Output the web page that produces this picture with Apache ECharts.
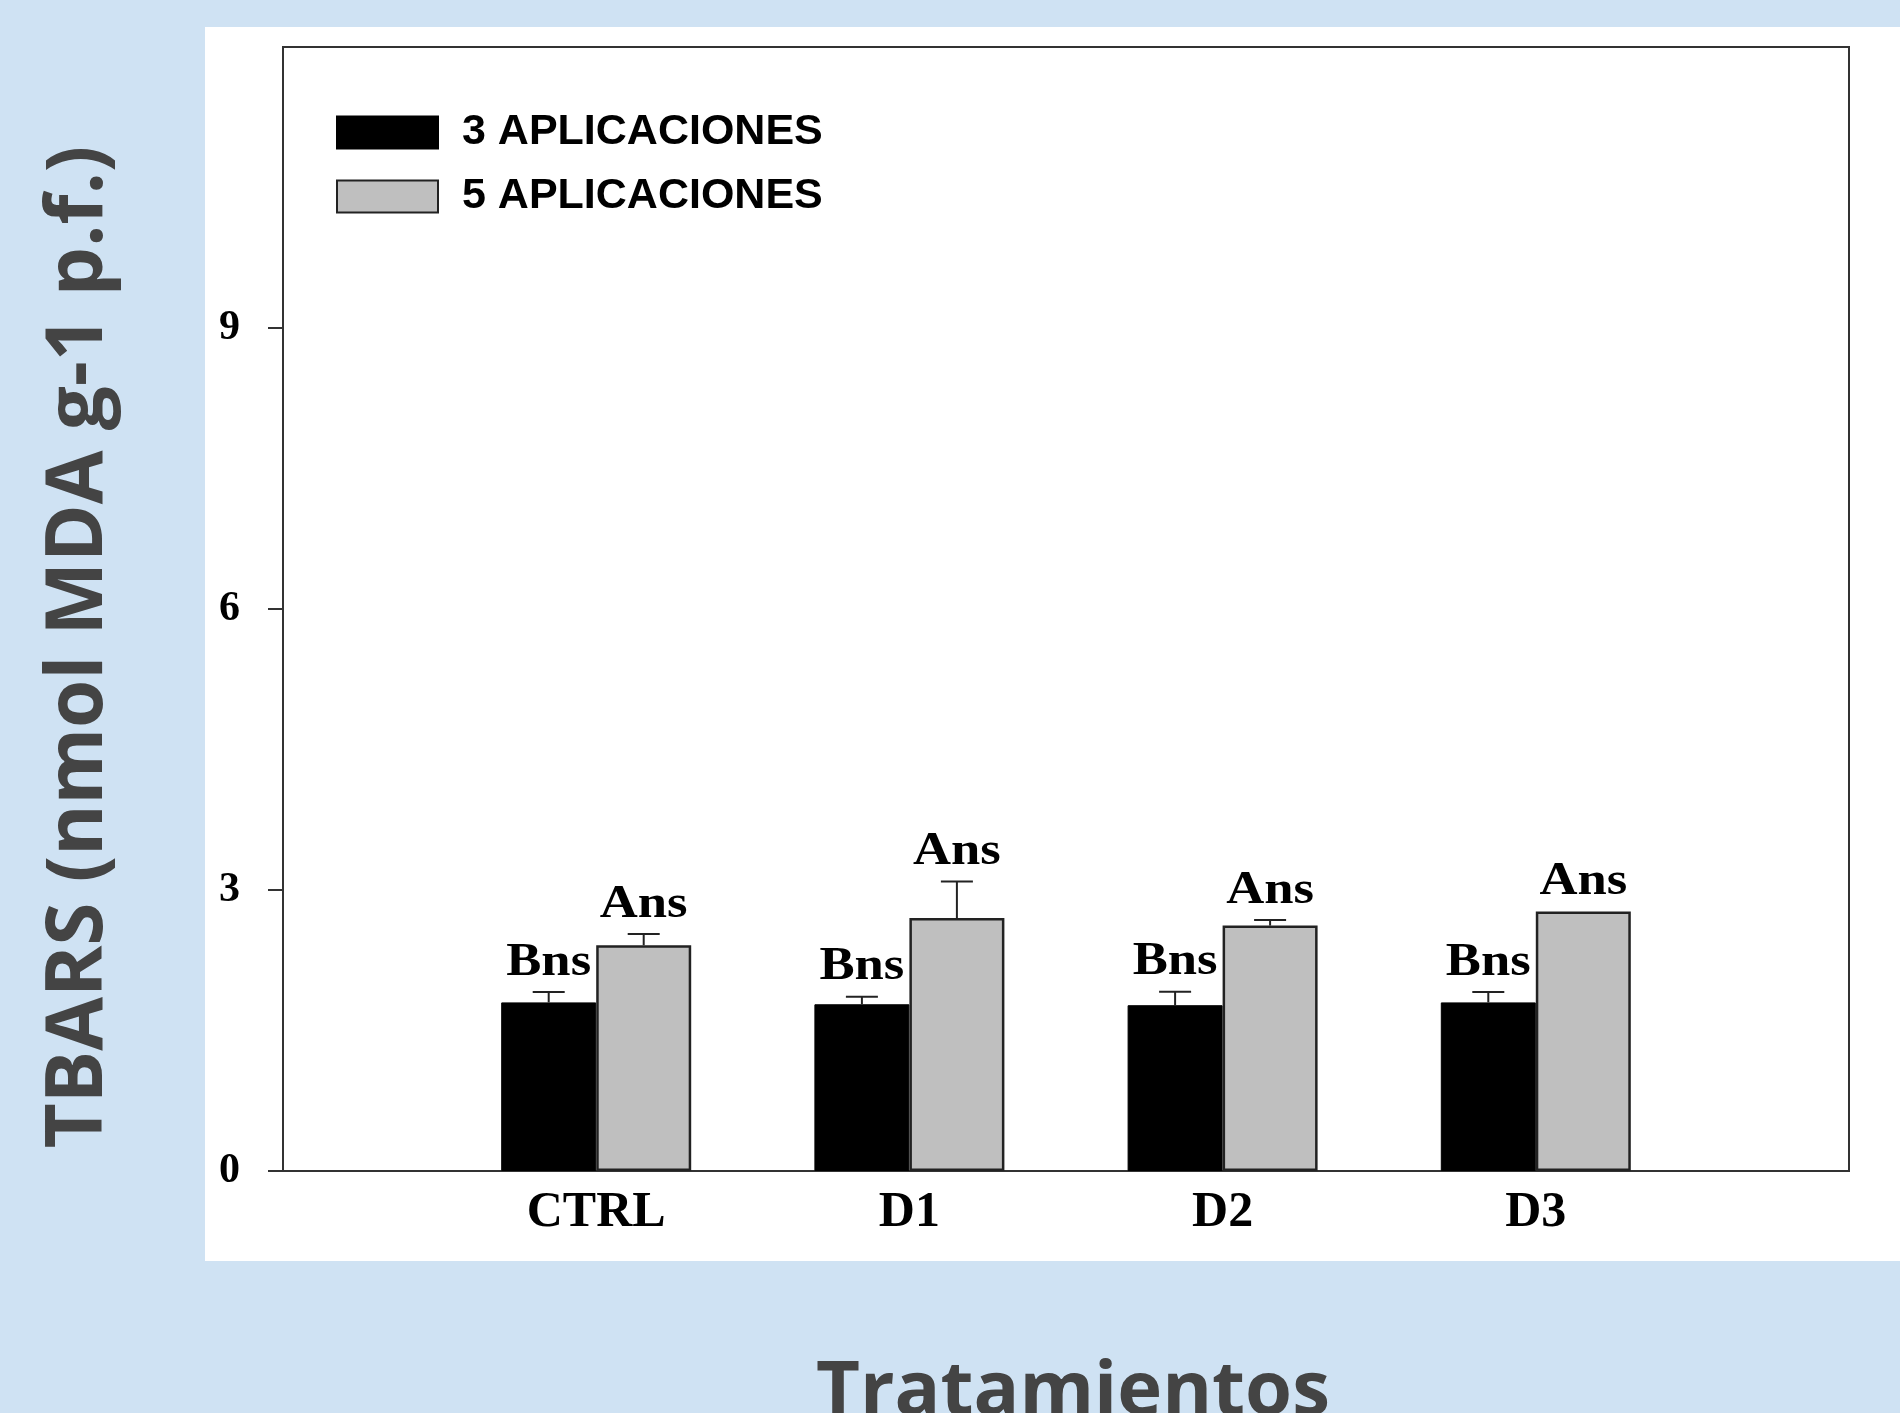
<!DOCTYPE html>
<html>
<head>
<meta charset="utf-8">
<title>TBARS</title>
<script src="https://cdn.jsdelivr.net/npm/echarts@6/dist/echarts.min.js"></script>
<style>
  html, body { margin: 0; padding: 0; background: #cfe2f3; }
  #chart { width: 1900px; height: 1413px; }
</style>
</head>
<body>
<div id="chart"></div>
<script>
// datos
var categories = ["CTRL", "D1", "D2", "D3"];
var seriesNames = ["3 APLICACIONES", "5 APLICACIONES"];
var apl3 = [1.80, 1.78, 1.77, 1.80];
var apl3Err = [0.11, 0.08, 0.145, 0.11];
var apl5 = [2.41, 2.70, 2.62, 2.77];
var apl5Err = [0.12, 0.39, 0.06, 0];
var apl3Labels = ["Bns", "Bns", "Bns", "Bns"];
var apl5Labels = ["Ans", "Ans", "Ans", "Ans"];
var yTicks = [0, 3, 6, 9];

var barW = 95;
var serif = "'Liberation Serif', 'Times New Roman', serif";

// categorias con un hueco vacio a cada lado
var axisCats = [""].concat(categories, [""]);
function pad(arr) {
  return [null].concat(arr, [null]);
}

function errSeries(vals, errs, labels, side) {
  return {
    type: "custom",
    z: 5,
    data: vals.map(function (v, i) {
      return [i + 1, v + errs[i]];
    }),
    encode: { x: 0, y: 1 },
    renderItem: function (params, api) {
      var i = params.dataIndex;
      var base = api.coord([i + 1, vals[i]]);
      var top = api.coord([i + 1, vals[i] + errs[i]]);
      var x = base[0] + side * barW / 2;
      var kids = [];
      if (errs[i] > 0) {
        kids.push({
          type: "line",
          shape: { x1: x, y1: base[1], x2: x, y2: top[1] },
          style: { stroke: "#222", lineWidth: 2 }
        });
        kids.push({
          type: "line",
          shape: { x1: x - 16, y1: top[1], x2: x + 16, y2: top[1] },
          style: { stroke: "#222", lineWidth: 2 }
        });
      }
      kids.push({
        type: "text",
        x: x,
        y: top[1] - 6,
        scaleX: 1.12,
        style: {
          text: labels[i],
          fill: "#000",
          font: "bold 47px " + serif,
          align: "center",
          verticalAlign: "bottom"
        }
      });
      return { type: "group", children: kids };
    }
  };
}

var chart = echarts.init(document.getElementById("chart"));
var option = {
  backgroundColor: "#cfe2f3",
  animation: false,
  graphic: [
    {
      type: "rect",
      z: -100,
      shape: { x: 205, y: 27, width: 1695, height: 1234 },
      style: { fill: "#ffffff" }
    }
  ],
  grid: {
    left: 283,
    right: 51,
    top: 47,
    bottom: 242,
    outerBoundsMode: "none",
    show: true,
    borderColor: "#333",
    borderWidth: 2,
    backgroundColor: "transparent"
  },
  legend: {
    orient: "vertical",
    left: 331,
    top: 106,
    itemWidth: 101,
    itemHeight: 32,
    itemGap: 21,
    icon: "rect",
    textStyle: {
      fontFamily: "'Liberation Sans', Arial, sans-serif",
      fontWeight: "bold",
      fontSize: 43,
      color: "#000",
      lineHeight: 32,
      padding: [0, 0, 0, 19]
    },
    data: seriesNames
  },
  xAxis: {
    type: "category",
    data: axisCats,
    boundaryGap: false,
    name: "Tratamientos",
    nameLocation: "middle",
    nameGap: 184,
    nameTextStyle: {
      fontFamily: "'Open Sans', sans-serif",
      fontWeight: "bold",
      fontSize: 76,
      color: "#444",
      padding: [0, 0, 0, 14]
    },
    axisLine: { lineStyle: { color: "#333", width: 2 } },
    axisTick: { show: false },
    axisLabel: {
      margin: 17,
      fontFamily: serif,
      fontWeight: "bold",
      fontSize: 50,
      color: "#000"
    },
    splitLine: { show: false }
  },
  yAxis: {
    type: "value",
    min: 0,
    max: 12,
    interval: 3,
    name: "TBARS (nmol MDA g-1 p.f.)",
    nameLocation: "middle",
    nameRotate: 90,
    nameGap: 164,
    nameTextStyle: {
      fontFamily: "'Open Sans', sans-serif",
      fontWeight: "bold",
      fontSize: 78,
      color: "#444",
      padding: [0, 76, 0, 0]
    },
    axisLine: { show: true, lineStyle: { color: "#333", width: 2 } },
    axisTick: {
      show: true,
      inside: false,
      length: 15,
      customValues: yTicks,
      lineStyle: { color: "#333", width: 2 }
    },
    axisLabel: {
      margin: 43,
      customValues: yTicks,
      fontFamily: serif,
      fontWeight: "bold",
      fontSize: 42,
      color: "#000"
    },
    splitLine: { show: false }
  },
  series: [
    {
      name: seriesNames[0],
      type: "bar",
      barWidth: barW,
      barGap: "0%",
      data: pad(apl3),
      itemStyle: { color: "#000", borderColor: "#000", borderWidth: 1 }
    },
    {
      name: seriesNames[1],
      type: "bar",
      barWidth: barW,
      barGap: "0%",
      data: pad(apl5),
      itemStyle: { color: "#bfbfbf", borderColor: "#222", borderWidth: 2.5 }
    },
    errSeries(apl3, apl3Err, apl3Labels, -1),
    errSeries(apl5, apl5Err, apl5Labels, 1)
  ]
};
chart.setOption(option);
</script>
</body>
</html>
